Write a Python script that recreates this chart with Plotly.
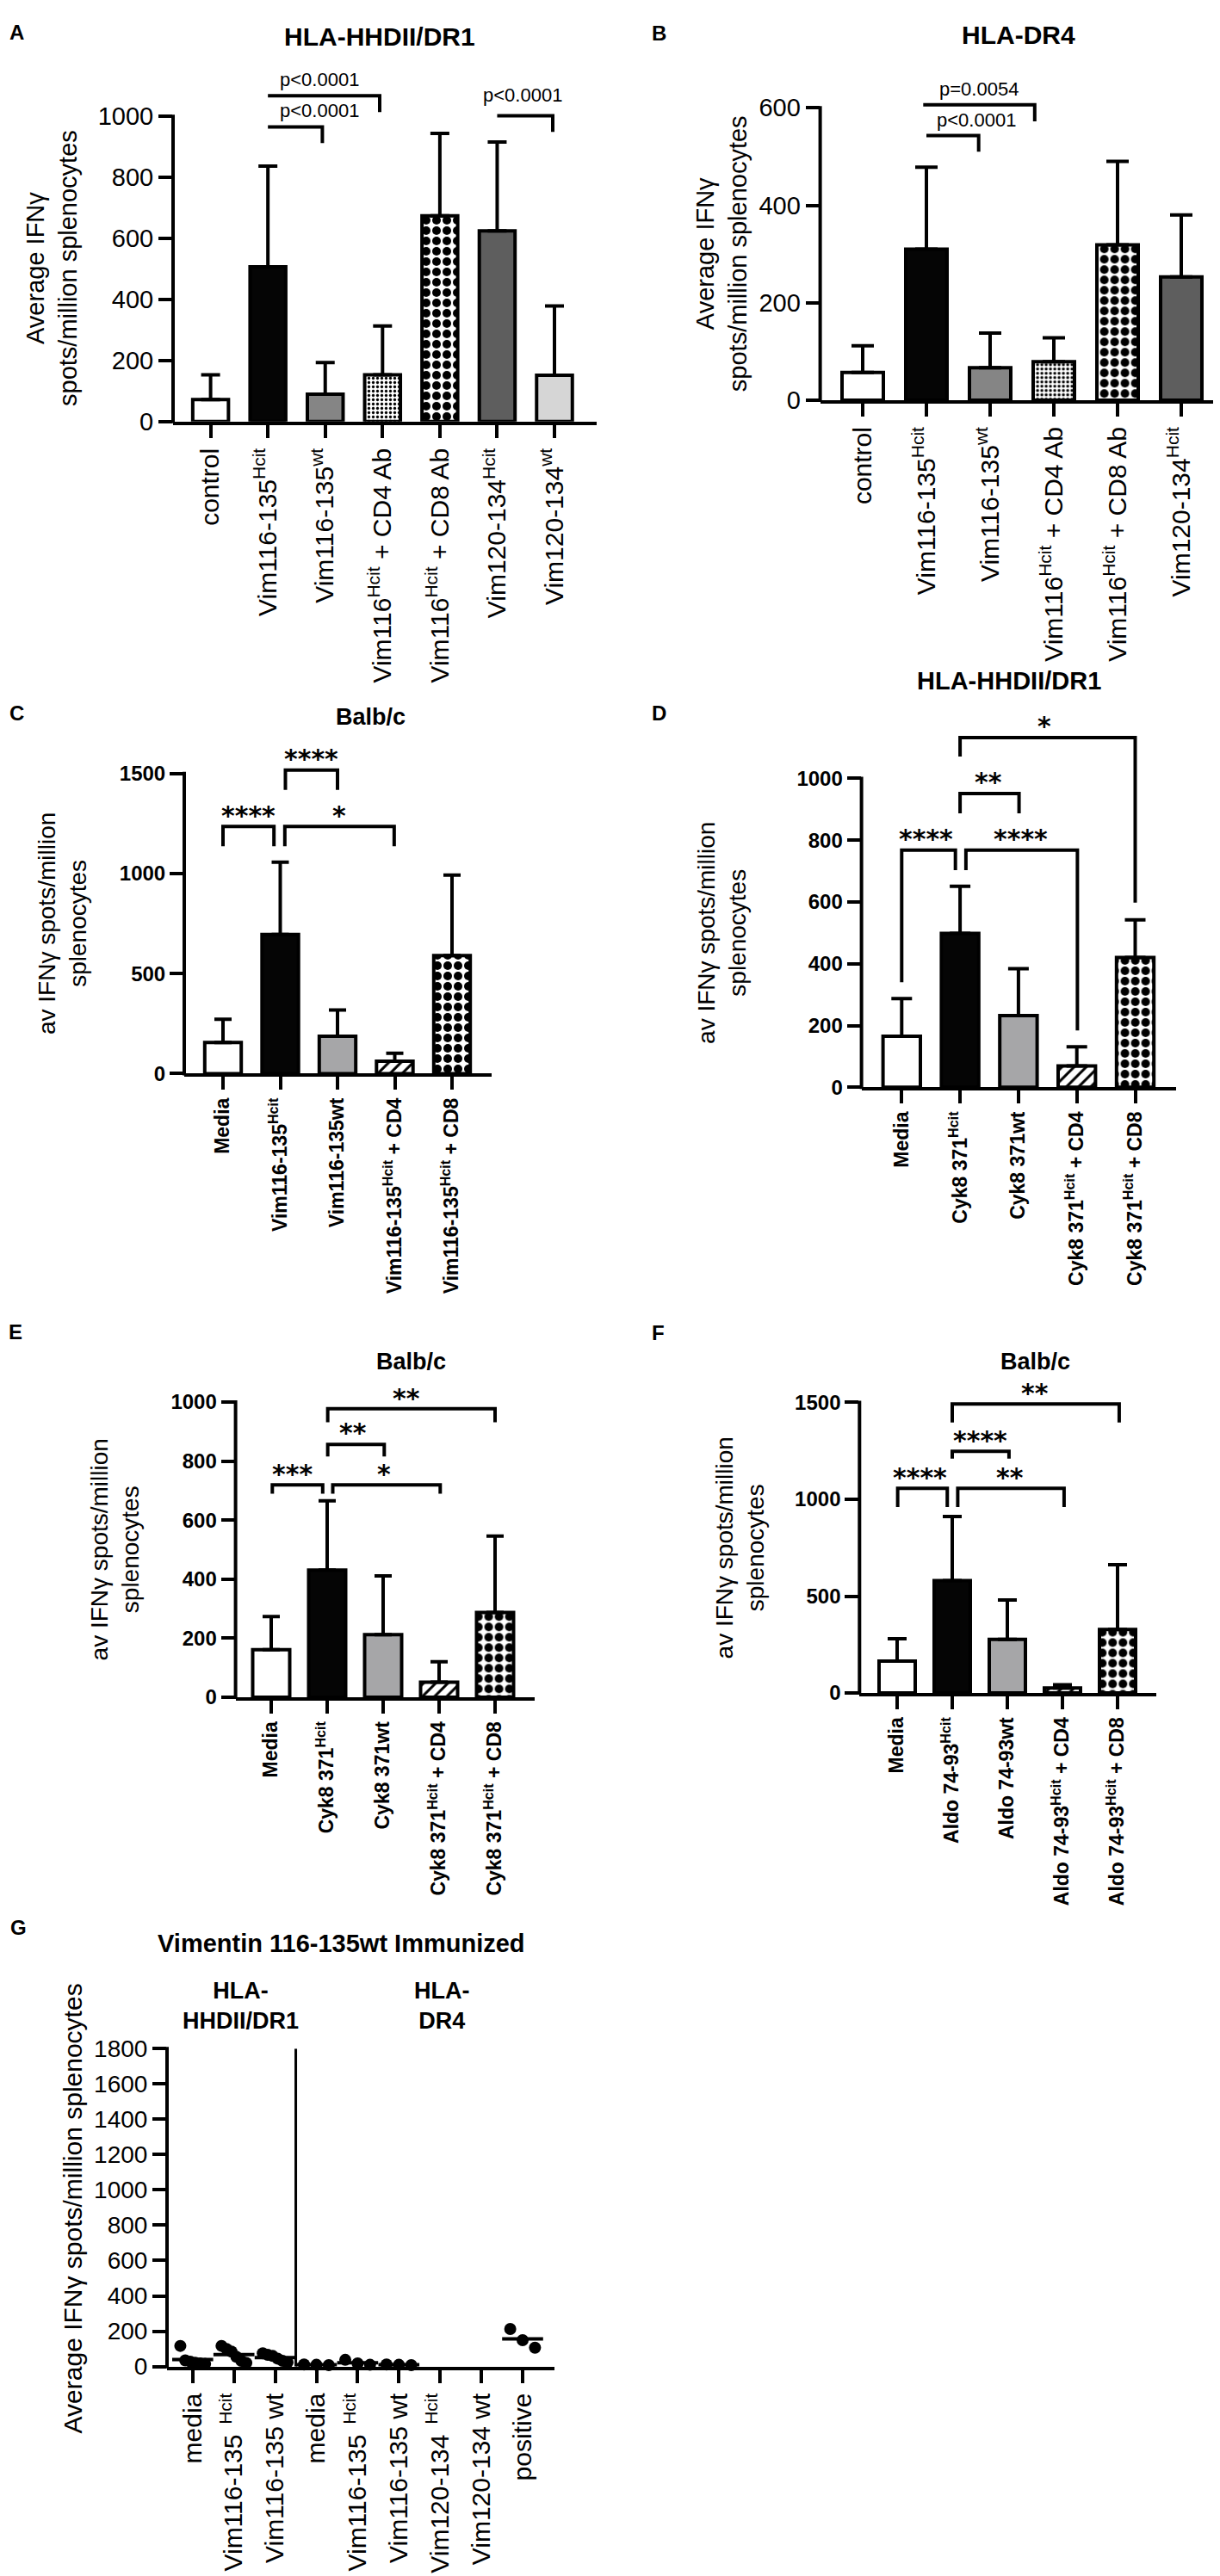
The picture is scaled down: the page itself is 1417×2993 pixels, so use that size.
import numpy as np
import plotly.graph_objects as go

W, H = 1417, 2993
SANS = "Liberation Sans, Arial, Helvetica, sans-serif"
STAR = "DejaVu Sans, sans-serif"

# ---------------- data ----------------

# A  HLA-HHDII/DR1
a_labels = ["control", "Vim116-135<sup>Hcit</sup>", "Vim116-135<sup>wt</sup>",
            "Vim116<sup>Hcit</sup> + CD4 Ab", "Vim116<sup>Hcit</sup> + CD8 Ab",
            "Vim120-134<sup>Hcit</sup>", "Vim120-134<sup>wt</sup>"]
a_mean = [72, 507, 90, 153, 674, 625, 152]
a_sd = [81, 330, 103, 160, 270, 291, 227]
# (left x, right x, bar level, left leg end, right leg end, label, label x, label y)
a_brackets = [
    (1, 2.95, 1067, None, 1014, "p<0.0001", 1.9, 1121),
    (1, 1.95, 965, None, 912, "p<0.0001", 1.9, 1019),
    (5, 5.97, 1002, None, 949, "p<0.0001", 5.45, 1070),
]

# B  HLA-DR4
b_labels = a_labels[:6]
b_mean = [57, 310, 67, 79, 319, 253]
b_sd = [55, 168, 71, 49, 171, 127]
b_brackets = [
    (0.95, 2.70, 606, None, 572, "p=0.0054", 1.82, 638),
    (1.0, 1.82, 543, None, 510, "p<0.0001", 1.79, 574),
]

# C  Balb/c, Vim116-135
c_labels = ["Media", "Vim116-135<sup>Hcit</sup>", "Vim116-135wt",
            "Vim116-135<sup>Hcit</sup> + CD4", "Vim116-135<sup>Hcit</sup> + CD8"]
c_mean = [156, 696, 187, 62, 590]
c_sd = [116, 361, 131, 40, 403]
c_brackets = [
    (0, 0.89, 1236, 1137, 1137, "****", 0.44, 1311),
    (1.08, 2.99, 1236, 1137, 1137, "*", 2.03, 1311),
    (1.09, 2.0, 1518, 1419, 1419, "****", 1.54, 1595),
]

# D  HLA-HHDII/DR1, Cyk8 371
cyk_labels = ["Media", "Cyk8 371<sup>Hcit</sup>", "Cyk8 371wt",
              "Cyk8 371<sup>Hcit</sup> + CD4", "Cyk8 371<sup>Hcit</sup> + CD8"]
d_mean = [165, 498, 232, 69, 420]
d_sd = [122, 153, 152, 62, 122]
d_brackets = [
    (0, 0.92, 768, 340, 703, "****", 0.42, 818),
    (1.10, 3.01, 768, 703, 184, "****", 2.04, 818),
    (1.0, 2.01, 951, 887, 887, "**", 1.48, 1002),
    (1.0, 4.0, 1132, 1071, 598, "*", 2.45, 1184),
]

# E  Balb/c, Cyk8 371
e_mean = [161, 431, 212, 51, 287]
e_sd = [112, 234, 199, 69, 259]
e_brackets = [
    (0.02, 0.92, 719, 689, 689, "***", 0.37, 772),
    (1.10, 3.02, 719, 689, 689, "*", 2.02, 772),
    (1.01, 2.02, 856, 815, 815, "**", 1.46, 910),
    (1.01, 4.0, 977, 931, 931, "**", 2.42, 1027),
]

# F  Balb/c, Aldo 74-93
f_labels = ["Media", "Aldo 74-93<sup>Hcit</sup>", "Aldo 74-93wt",
            "Aldo 74-93<sup>Hcit</sup> + CD4", "Aldo 74-93<sup>Hcit</sup> + CD8"]
f_mean = [165, 580, 277, 26, 328]
f_sd = [115, 331, 203, 16, 334]
f_brackets = [
    (0.01, 0.91, 1057, 960, 960, "****", 0.42, 1136),
    (1.10, 3.03, 1057, 960, 960, "**", 2.05, 1136),
    (1.0, 2.03, 1248, 1210, 1210, "****", 1.50, 1327),
    (1.0, 4.03, 1492, 1397, 1397, "**", 2.5, 1573),
]

# G  Vimentin 116-135wt immunized, single mice
g_labels = ["media", "Vim116-135<sup>  Hcit</sup>", "Vim116-135 wt",
            "media", "Vim116-135<sup>  Hcit</sup>", "Vim116-135 wt",
            "Vim120-134<sup>  Hcit</sup>", "Vim120-134 wt", "positive"]
g_values = [[117, 35, 28, 22, 18, 15], [117, 100, 85, 55, 32, 20],
            [75, 66, 60, 45, 32, 24], [12, 10, 8], [38, 18, 10],
            [12, 10, 8], [], [], [213, 149, 107]]
g_groups = ["HLA-<br>HHDII/DR1", "HLA-<br>DR4"]

# ---------------- styles / layout ----------------
FILLS = {
    "white": dict(color="white"),
    "black": dict(color="#050505"),
    "gray": dict(color="#858585"),
    "gray2": dict(color="#a6a6a8"),
    "dark": dict(color="#5e5e5e"),
    "light": dict(color="#d6d6d6"),
    "dots": dict(color="white", shape=".", size=5, solidity=0.35),
    "checker": dict(color="white", shape=".", size=12, solidity=0.55),
    "hatch": dict(color="white", shape="/", size=10, solidity=0.3),
}
a_fills = ["white", "black", "gray", "dots", "checker", "dark", "light"]
b_fills = a_fills[:6]
cf_fills = ["white", "black", "gray2", "hatch", "checker"]

# pixel geometry of every panel: y-axis x, x-axis end, zero / top tick pixel rows,
# first category centre, category spacing, bar width
GEOM = {
    1: dict(ax=193, ex=685, y0=471.7, yT=113.3, T=1000, c0=236.6, sp=66.57, bw=41.5, ymax=1150),
    2: dict(ax=944.6, ex=1415, y0=446.7, yT=103.3, T=600, c0=994, sp=74, bw=48, ymax=660),
    3: dict(ax=206, ex=563, y0=1237.3, yT=885, T=1500, c0=251, sp=66.5, bw=42.4, ymax=1650),
    4: dict(ax=992.6, ex=1358.4, y0=1253.3, yT=890.7, T=1000, c0=1039.3, sp=67.8, bw=43.4, ymax=1230),
    5: dict(ax=265.6, ex=612.5, y0=1969.4, yT=1622.7, T=1000, c0=307, sp=65, bw=43, ymax=1060),
    6: dict(ax=990.3, ex=1335, y0=1964.4, yT=1623.3, T=1500, c0=1034, sp=64, bw=42, ymax=1620),
    7: dict(ax=186, ex=636, y0=2755.2, yT=2381.8, T=1800, c0=215.8, sp=47.9, bw=0, ymax=1800),
}

fig = go.Figure()
annotations = []
shapes = []


def names(n):
    s = "" if n == 1 else str(n)
    return "x" + s, "y" + s, "xaxis" + s, "yaxis" + s


def paper_text(text, x, y, size, bold=False, angle=0, family=SANS):
    return dict(text=text, x=x / W, y=1 - y / H, xref="paper", yref="paper",
                showarrow=False, textangle=angle, xanchor="center", yanchor="middle",
                font=dict(family=family, size=size, color="black",
                          weight="bold" if bold else "normal"))


def set_axes(n, labels, yticks, ytick_font, xtick_font):
    g = GEOM[n]
    xr = [(g["ax"] - g["c0"]) / g["sp"], (g["ex"] - g["c0"]) / g["sp"]]
    ppu = (g["y0"] - g["yT"]) / g["T"]
    top = g["y0"] - g["ymax"] * ppu
    xa, ya, xkey, ykey = names(n)
    fig.update_layout(**{
        xkey: dict(domain=[g["ax"] / W, g["ex"] / W], range=xr, anchor=ya,
                   showline=True, linewidth=4, linecolor="black", ticks="outside",
                   ticklen=15, tickwidth=4, tickcolor="black",
                   tickvals=list(range(len(labels))), ticktext=labels, tickangle=-90,
                   tickfont=xtick_font, showgrid=False, zeroline=False, fixedrange=True),
        ykey: dict(domain=[1 - g["y0"] / H, 1 - top / H], range=[0, g["ymax"]], anchor=xa,
                   showline=False, ticks="outside", ticklen=16, tickwidth=4,
                   tickcolor="black", tickvals=yticks, tickfont=ytick_font,
                   showgrid=False, zeroline=False, fixedrange=True),
    })
    # y axis line only up to the top tick
    shapes.append(dict(type="line", xref="paper", yref="paper",
                       x0=g["ax"] / W, x1=g["ax"] / W,
                       y0=1 - (g["y0"] + 2) / H, y1=1 - (g["yT"] - 2) / H,
                       line=dict(color="black", width=4)))


def bar_panel(n, labels, mean, sd, fills, brackets, yticks, cap,
              ytick_font, xtick_font, bracket_font, star=False):
    g = GEOM[n]
    xa, ya, _, _ = names(n)
    set_axes(n, labels, yticks, ytick_font, xtick_font)
    for i, (m, s, f) in enumerate(zip(mean, sd, fills)):
        st = FILLS[f]
        marker = dict(color=st["color"], line=dict(color="black", width=4))
        if "shape" in st:
            marker["pattern"] = dict(shape=st["shape"], size=st["size"],
                                     solidity=st["solidity"], fgcolor="black",
                                     bgcolor="white", fillmode="replace")
        fig.add_trace(go.Bar(
            x=[i], y=[m], width=g["bw"] / g["sp"], marker=marker,
            error_y=dict(type="data", array=[s], arrayminus=[0], symmetric=False,
                         color="black", thickness=4, width=cap),
            xaxis=xa, yaxis=ya, showlegend=False, hoverinfo="skip"))
    bx, by = [], []
    for xl, xrt, lvl, legl, legr, txt, tx, ty in brackets:
        bx += [xl, xl, xrt, xrt, None]
        by += [lvl if legl is None else legl, lvl, lvl, lvl if legr is None else legr, None]
        annotations.append(dict(text=txt, x=tx, y=ty, xref=xa, yref=ya, showarrow=False,
                                xanchor="center", yanchor="middle",
                                yshift=-5 if star else 0, font=bracket_font))
    fig.add_trace(go.Scatter(x=bx, y=by, mode="lines", line=dict(color="black", width=4),
                             xaxis=xa, yaxis=ya, showlegend=False, hoverinfo="skip"))


reg29 = dict(family=SANS, size=29, color="black")
reg30 = dict(family=SANS, size=30, color="black")
bold24 = dict(family=SANS, size=24, color="black", weight="bold")
bold23 = dict(family=SANS, size=23, color="black", weight="bold")
pfont = dict(family=SANS, size=22, color="black")
sfont = dict(family=STAR, size=30, color="black", weight="bold")

bar_panel(1, a_labels, a_mean, a_sd, a_fills, a_brackets, list(range(0, 1001, 200)), 11,
          reg29, reg30, pfont)
bar_panel(2, b_labels, b_mean, b_sd, b_fills, b_brackets, [0, 200, 400, 600], 13,
          reg29, reg30, pfont)
bar_panel(3, c_labels, c_mean, c_sd, cf_fills, c_brackets, [0, 500, 1000, 1500], 10,
          bold24, bold23, sfont, star=True)
bar_panel(4, cyk_labels, d_mean, d_sd, cf_fills, d_brackets, list(range(0, 1001, 200)), 12,
          bold24, bold23, sfont, star=True)
bar_panel(5, cyk_labels, e_mean, e_sd, cf_fills, e_brackets, list(range(0, 1001, 200)), 10,
          bold24, bold23, sfont, star=True)
bar_panel(6, f_labels, f_mean, f_sd, cf_fills, f_brackets, [0, 500, 1000, 1500], 11,
          bold24, bold23, sfont, star=True)

# ---- panel G: individual mice with mean line ----
set_axes(7, g_labels, list(range(0, 1801, 200)), dict(family=SANS, size=28, color="black"), reg30)
px_, py_, mx, my = [], [], [], []
for i, vals in enumerate(g_values):
    if not vals:
        continue
    offs = np.linspace(-0.3, 0.3, len(vals)) if len(vals) > 1 else [0.0]
    px_ += [i + o for o in offs]
    py_ += vals
    mx.append(i)
    my.append(float(np.mean(vals)))
fig.add_trace(go.Scatter(x=px_, y=py_, mode="markers", xaxis="x7", yaxis="y7",
                         marker=dict(size=14, color="black"), cliponaxis=False,
                         showlegend=False, hoverinfo="skip"))
fig.add_trace(go.Scatter(x=mx, y=my, mode="markers", xaxis="x7", yaxis="y7",
                         marker=dict(symbol="line-ew", size=34,
                                     line=dict(color="black", width=4)),
                         cliponaxis=False, showlegend=False, hoverinfo="skip"))
fig.add_trace(go.Scatter(x=[2.5, 2.5], y=[0, 1800], mode="lines", xaxis="x7", yaxis="y7",
                         line=dict(color="black", width=3), showlegend=False, hoverinfo="skip"))
for gx, gt in zip([1.16, 6.04], g_groups):
    annotations.append(dict(text=gt, x=gx, y=1 - 2332 / H, xref="x7", yref="paper",
                            showarrow=False, xanchor="center", yanchor="middle",
                            font=dict(family=SANS, size=27, color="black", weight="bold")))

# ---- panel letters, titles, y titles ----
for letter, x, y in [("A", 11, 15), ("B", 757, 16), ("C", 11, 814), ("D", 757, 814),
                     ("E", 10, 1540), ("F", 756, 1541), ("G", 13, 2240)]:
    annotations.append(paper_text(letter, x, y, 24, bold=True))

for text, x, y, size in [("HLA-HHDII/DR1", 433, 20, 30), ("HLA-DR4", 1175, 18, 30),
                         ("Balb/c", 422, 818, 27), ("HLA-HHDII/DR1", 1164, 776, 29),
                         ("Balb/c", 469, 1575, 27), ("Balb/c", 1194, 1575, 27),
                         ("Vimentin 116-135wt Immunized", 388, 2258, 29)]:
    annotations.append(paper_text(text, x, y, size, bold=True))

ytitle_long = "Average IFNγ<br>spots/million splenocytes"
ytitle_av = "av IFNγ spots/million<br>splenocytes"
for text, x, y, size in [(ytitle_long, 52, 292, 29), (ytitle_long, 830, 275, 29),
                         (ytitle_av, 64, 1061, 28), (ytitle_av, 831, 1072, 28),
                         (ytitle_av, 125, 1796, 28), (ytitle_av, 851, 1794, 28),
                         ("Average IFNγ spots/million splenocytes", 76, 2570, 30)]:
    annotations.append(paper_text(text, x, y, size, angle=-90))

fig.update_layout(width=W, height=H, margin=dict(l=0, r=0, t=0, b=0),
                  plot_bgcolor="white", paper_bgcolor="white", showlegend=False,
                  annotations=annotations, shapes=shapes)

fig.write_html("out.html")
